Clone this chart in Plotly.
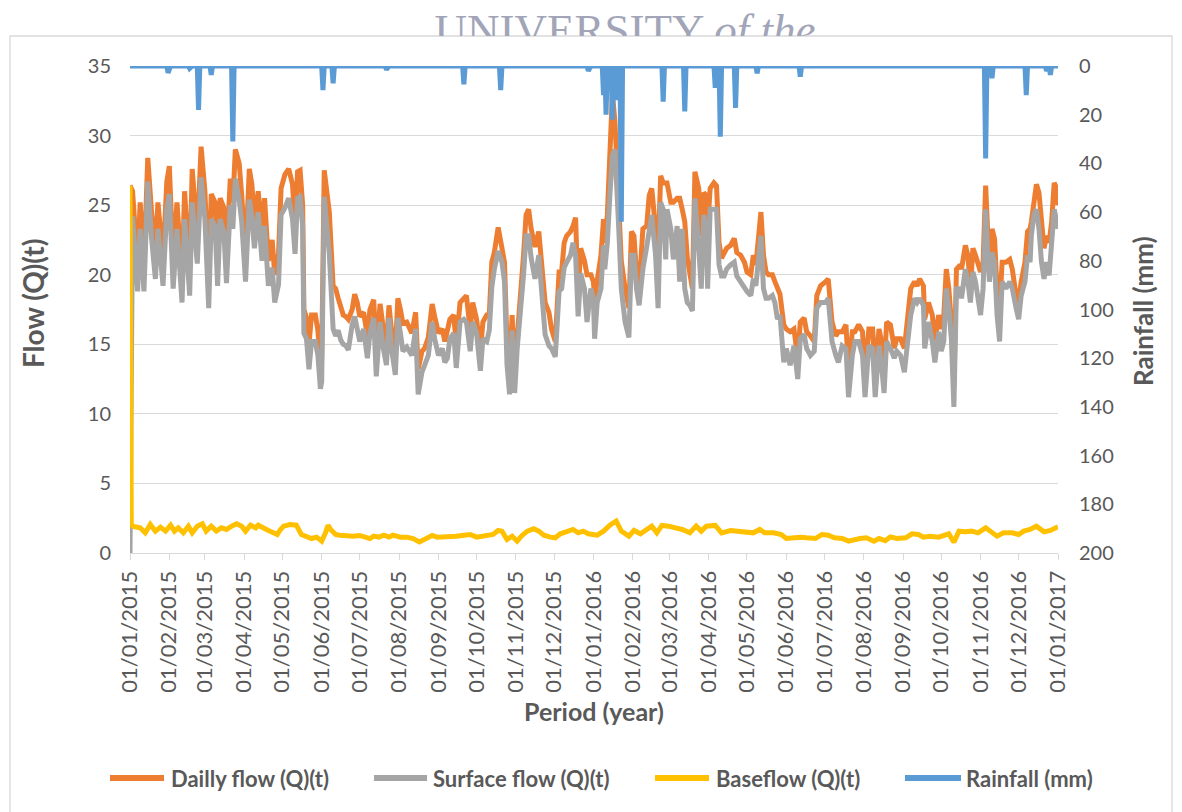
import pandas as pd
import plotly.graph_objects as go

W, H = 1182, 812
OFF = 8  # the page body margin shifts the figure by 8px

# ---------------- data ----------------
# day offsets from 01/01/2015
flow_day = [0, 2, 6, 8, 11, 14, 17, 20, 22, 26, 29, 31, 34, 37, 41, 43, 47, 49, 53, 56,
            59, 62, 64, 67, 69, 71, 74, 76, 79, 81, 83, 86, 88, 91, 94, 96, 98, 101, 104, 106,
            109, 112, 114, 117, 119, 122, 125, 128, 130, 132, 134, 136, 137, 139, 141, 143, 146, 148, 150, 151,
            153, 155, 157, 160, 162, 164, 166, 168, 170, 172, 175, 177, 179, 181, 184, 187, 189, 192, 194, 197,
            199, 202, 204, 206, 209, 211, 213, 215, 218, 222, 225, 227, 230, 232, 235, 238, 240, 243, 246, 248,
            250, 252, 255, 257, 260, 263, 265, 268, 270, 273, 276, 278, 281, 283, 285, 287, 290, 293, 295, 297,
            299, 301, 303, 305, 307, 310, 312, 314, 316, 319, 322, 324, 327, 330, 332, 335, 338, 340, 342, 344,
            347, 349, 351, 353, 355, 358, 360, 363, 365, 366, 368, 371, 373, 374, 376, 378, 380, 382, 383, 385,
            387, 390, 393, 395, 397, 399, 401, 404, 407, 409, 411, 414, 416, 418, 420, 422, 423, 426, 428, 431,
            433, 435, 437, 439, 441, 443, 445, 448, 450, 452, 454, 455, 457, 460, 462, 464, 466, 468, 470, 473,
            476, 478, 481, 484, 486, 489, 491, 493, 497, 499, 501, 503, 506, 508, 510, 512, 515, 517, 520, 523,
            526, 528, 531, 533, 536, 539, 541, 544, 548, 550, 553, 556, 558, 561, 564, 566, 569, 571, 574, 577,
            579, 582, 585, 587, 590, 592, 594, 596, 599, 602, 604, 607, 610, 612, 615, 618, 620, 622, 625, 626,
            629, 632, 634, 637, 639, 641, 643, 645, 647, 649, 651, 654, 655, 658, 660, 662, 664, 666, 668, 670,
            672, 674, 676, 677, 679, 681, 683, 685, 687, 690, 693, 695, 698, 700, 702, 705, 707, 709, 710, 712,
            714, 716, 718, 720, 722, 724, 726, 728, 730, 731]

daily_flow = [26.4, 26.0, 20.7, 25.2, 20.7, 28.4, 24.5, 21.6, 25.2, 21.1, 26.7, 27.8, 20.9, 25.2, 19.8, 26.0, 20.3, 27.6, 22.7, 29.2,
              26.0, 19.4, 25.8, 25.2, 21.0, 25.5, 24.8, 21.2, 26.9, 25.2, 29.0, 28.0, 25.7, 21.3, 27.6, 26.5, 23.8, 26.0, 23.0, 25.5,
              21.0, 22.5, 20.0, 21.5, 26.2, 27.2, 27.6, 26.5, 23.5, 27.4, 27.5, 25.0, 17.5, 16.9, 15.0, 17.1, 17.1, 16.0, 13.5, 14.0,
              27.5, 26.0, 24.5, 19.2, 19.0, 18.3, 17.6, 17.1, 17.0, 16.8, 17.5, 18.6, 18.0, 17.0, 17.3, 15.6, 17.5, 18.2, 14.3, 17.9,
              16.5, 15.0, 17.8, 16.0, 14.5, 18.3, 17.5, 16.5, 16.6, 15.8, 17.3, 13.2, 14.5, 14.7, 15.5, 17.9, 17.0, 15.8, 16.1, 15.2,
              16.0, 16.8, 17.1, 15.0, 18.0, 18.3, 18.5, 16.0, 18.0, 16.8, 14.5, 16.6, 17.1, 17.1, 20.9, 21.6, 23.4, 21.9, 20.9, 15.0,
              13.0, 17.1, 13.0, 15.5, 17.5, 21.4, 24.3, 24.7, 23.3, 22.0, 23.1, 20.9, 18.0, 17.3, 16.1, 15.2, 20.2, 20.2, 22.3, 22.8,
              23.1, 23.5, 24.1, 18.5, 21.9, 21.0, 20.0, 20.0, 19.5, 18.3, 19.5, 21.4, 24.0, 22.3, 24.3, 30.0, 33.0, 31.0, 28.6, 24.7,
              21.0, 19.0, 17.6, 23.1, 22.8, 20.0, 19.0, 23.3, 23.5, 25.7, 26.2, 23.3, 21.4, 27.1, 26.6, 26.6, 26.6, 25.2, 25.2, 25.5,
              25.5, 24.7, 23.8, 21.2, 20.2, 19.0, 27.4, 26.2, 22.8, 25.9, 25.7, 23.3, 26.2, 26.6, 26.4, 22.3, 21.2, 21.6, 21.9, 22.1,
              22.6, 21.6, 21.4, 20.9, 20.2, 20.0, 21.4, 20.7, 24.5, 21.4, 20.2, 20.0, 20.0, 19.5, 19.0, 18.6, 16.4, 16.1, 15.9, 16.1,
              14.0, 16.6, 16.9, 15.9, 15.6, 15.2, 18.5, 19.2, 19.5, 19.7, 16.6, 15.6, 15.9, 15.9, 16.4, 13.0, 15.9, 15.9, 16.4, 15.9,
              12.8, 16.1, 16.1, 12.8, 16.1, 15.2, 13.0, 16.6, 16.4, 14.7, 15.4, 15.4, 14.7, 16.6, 19.0, 19.5, 19.2, 19.7, 19.2, 16.8,
              18.0, 17.1, 15.2, 17.1, 16.1, 17.0, 20.4, 19.0, 16.6, 12.0, 20.4, 20.7, 20.4, 22.1, 21.4, 19.0, 21.9, 21.4, 20.9, 20.2,
              20.9, 26.4, 22.3, 20.2, 23.3, 22.6, 19.0, 17.6, 20.9, 20.9, 21.1, 20.4, 18.5, 18.0, 19.5, 20.9, 23.1, 23.3, 23.8, 25.2,
              26.5, 25.9, 23.3, 21.9, 22.8, 22.3, 23.8, 26.6, 26.2, 25.0]

surface_flow = [0.0, 24.2, 18.8, 23.3, 18.8, 26.7, 22.6, 19.7, 23.3, 19.2, 24.7, 25.8, 19.0, 23.3, 18.0, 24.0, 18.5, 25.2, 20.8, 27.0,
                24.0, 17.6, 24.0, 23.5, 19.2, 24.0, 23.0, 19.4, 25.0, 23.3, 26.9, 25.4, 23.8, 19.5, 25.4, 24.2, 21.9, 24.5, 21.0, 23.5,
                19.2, 20.5, 18.0, 19.3, 24.3, 24.8, 25.5, 24.0, 21.5, 25.5, 25.6, 23.5, 15.8, 15.4, 13.2, 15.2, 15.2, 14.2, 11.8, 12.3,
                25.6, 23.8, 21.5, 16.1, 15.6, 16.0, 15.3, 15.0, 14.9, 14.6, 16.4, 17.0, 16.0, 15.2, 16.1, 14.0, 15.8, 16.9, 12.7, 16.6,
                15.0, 13.5, 16.9, 14.7, 12.8, 16.9, 15.8, 14.5, 14.8, 14.2, 16.1, 11.4, 13.0, 13.5, 14.2, 16.6, 15.4, 14.2, 14.7, 13.7,
                14.0, 15.4, 15.8, 13.3, 16.6, 16.8, 16.6, 14.5, 16.6, 15.8, 13.1, 15.4, 15.2, 16.0, 19.1, 20.4, 21.7, 20.9, 19.5, 13.5,
                11.4, 16.0, 11.5, 14.7, 16.6, 20.0, 22.8, 22.8, 21.2, 19.7, 21.4, 19.0, 15.7, 14.9, 14.7, 14.1, 18.8, 19.0, 20.5, 20.9,
                21.4, 22.3, 21.4, 17.0, 20.1, 19.0, 16.6, 19.0, 18.3, 15.4, 18.0, 19.0, 22.1, 20.4, 22.3, 25.7, 28.6, 29.0, 26.2, 23.3,
                19.0, 16.6, 15.5, 21.4, 21.4, 19.0, 17.8, 20.4, 22.0, 23.1, 24.3, 21.4, 17.6, 25.2, 24.7, 21.1, 24.7, 23.3, 21.1, 23.5,
                19.5, 23.3, 19.0, 18.0, 17.8, 17.4, 25.5, 21.9, 19.0, 24.3, 23.3, 19.0, 24.7, 24.7, 24.7, 20.7, 19.9, 19.9, 20.4, 20.7,
                20.9, 19.9, 19.5, 19.0, 18.8, 18.5, 19.7, 19.2, 22.8, 19.0, 18.3, 18.3, 18.5, 18.0, 16.8, 17.1, 13.7, 14.7, 13.5, 14.9,
                12.5, 15.4, 15.7, 14.7, 14.2, 14.5, 17.6, 18.0, 18.0, 18.3, 15.2, 14.2, 13.7, 14.9, 14.7, 11.2, 14.2, 15.2, 15.2, 14.2,
                11.2, 14.9, 14.7, 11.2, 14.9, 13.5, 11.5, 15.2, 14.7, 14.0, 14.5, 14.2, 13.0, 14.7, 17.1, 18.3, 18.0, 18.3, 17.8, 14.7,
                16.6, 15.2, 13.7, 15.9, 14.5, 15.2, 19.0, 17.6, 15.4, 10.5, 19.0, 19.0, 18.3, 20.4, 19.5, 18.0, 20.2, 19.5, 18.5, 17.1,
                19.0, 24.7, 20.9, 19.5, 21.6, 20.9, 17.1, 15.2, 19.5, 19.0, 19.5, 19.0, 17.6, 16.8, 18.5, 19.5, 21.4, 20.9, 22.8, 24.3,
                24.7, 23.3, 20.9, 19.7, 20.9, 19.95, 22.3, 24.7, 23.8, 23.3]

base_day = [0, 1, 3, 8, 12, 16, 20, 24, 28, 32, 35, 38, 42, 46, 49, 53, 57, 60, 64, 68,
            72, 76, 80, 84, 88, 91, 95, 99, 101, 105, 109, 113, 116, 118, 121, 126, 131, 135, 139, 143,
            147, 151, 154, 156, 158, 162, 165, 171, 176, 181, 186, 189, 192, 196, 200, 204, 207, 213, 218, 223,
            228, 232, 238, 242, 247, 252, 257, 263, 268, 273, 277, 281, 286, 290, 293, 297, 301, 305, 309, 313,
            318, 322, 326, 331, 335, 339, 344, 349, 353, 357, 361, 365, 368, 373, 378, 383, 387, 393, 397, 402,
            407, 411, 415, 419, 424, 429, 435, 441, 446, 450, 454, 461, 466, 473, 479, 486, 491, 496, 500, 507,
            513, 517, 523, 528, 533, 540, 545, 550, 555, 561, 566, 570, 575, 580, 586, 590, 595, 599, 604, 611,
            616, 621, 625, 630, 637, 645, 649, 653, 658, 663, 668, 674, 677, 683, 688, 695, 700, 704, 709, 714,
            720, 725, 731]

baseflow = [26.4, 2.0, 1.9, 1.81, 1.45, 2.05, 1.57, 1.86, 1.57, 2.0, 1.57, 1.81, 1.45, 1.93, 1.45, 1.93, 2.1, 1.57, 1.93, 1.57,
            1.81, 1.69, 1.93, 2.1, 1.93, 1.57, 2.0, 1.81, 2.0, 1.76, 1.62, 1.45, 1.33, 1.62, 1.93, 2.05, 2.0, 1.33, 1.14, 1.04,
            1.14, 0.85, 1.45, 2.0, 1.69, 1.33, 1.28, 1.21, 1.21, 1.26, 1.14, 1.04, 1.21, 1.14, 1.28, 1.14, 1.28, 1.14, 1.14, 1.04,
            0.8, 0.97, 1.26, 1.14, 1.14, 1.21, 1.21, 1.28, 1.33, 1.14, 1.21, 1.26, 1.33, 1.62, 1.57, 0.97, 1.21, 0.85, 1.28, 1.57,
            1.74, 1.57, 1.28, 1.14, 1.09, 1.38, 1.57, 1.69, 1.45, 1.57, 1.38, 1.28, 1.28, 1.57, 2.0, 2.29, 1.57, 1.21, 1.62, 1.38,
            1.69, 1.93, 1.45, 1.98, 1.93, 1.81, 1.69, 1.45, 1.93, 1.57, 1.93, 1.98, 1.45, 1.62, 1.57, 1.52, 1.45, 1.69, 1.45, 1.45,
            1.33, 1.04, 1.09, 1.14, 1.09, 1.04, 1.33, 1.28, 1.09, 1.04, 0.85, 0.97, 1.04, 1.09, 0.85, 1.04, 0.89, 1.16, 1.04, 1.09,
            1.38, 1.33, 1.14, 1.21, 1.14, 1.38, 0.77, 1.57, 1.52, 1.57, 1.45, 1.81, 1.62, 1.21, 1.45, 1.45, 1.33, 1.57, 1.69, 1.93,
            1.52, 1.62, 1.88]

rain_day = [30, 47, 54, 64, 81, 152, 160, 202, 263, 292, 361, 373, 375, 380, 383, 387,
            420, 437, 461, 465, 477, 494, 528, 674, 679, 706, 722, 725]
rain_mm = [2.8, 1.0, 18.0, 3.7, 31.0, 9.9, 7.1, 1.5, 7.5, 9.9, 2.0, 12.0, 20.0, 22.0, 14.0, 64.0,
           14.6, 18.7, 9.0, 29.0, 17.2, 3.0, 4.4, 38.0, 5.0, 12.0, 2.0, 3.7]

month_ticks = pd.date_range("2015-01-01", "2017-01-01", freq="MS")
month_labels = [d.strftime("%d/%m/%Y") for d in month_ticks]

flow_left_ticks = [0, 5, 10, 15, 20, 25, 30, 35]
rain_right_ticks = [0, 20, 40, 60, 80, 100, 120, 140, 160, 180, 200]

series_names = ["Dailly flow (Q)(t)", "Surface flow (Q)(t)", "Baseflow (Q)(t)", "Rainfall (mm)"]

# ---------------- build ----------------
start = pd.Timestamp("2015-01-01")
flow_dates = [start + pd.Timedelta(days=d) for d in flow_day]
base_dates = [start + pd.Timedelta(days=d) for d in base_day]
rain_dates = pd.date_range("2015-01-01", "2017-01-01", freq="D")
rain_series = [0.0] * len(rain_dates)
for d, v in zip(rain_day, rain_mm):
    rain_series[d] = v


def px(sx):
    return (sx - OFF) / W


def py(sy):
    return 1 - (sy - OFF) / H


C_ORANGE = "#ED7D31"
C_GRAY = "#A5A5A5"
C_YELLOW = "#FFC000"
C_BLUE = "#5B9BD5"
colors = [C_ORANGE, C_GRAY, C_YELLOW, C_BLUE]
TXT = "#595959"
GRID = "#D9D9D9"
FONT = "Lato"
LW = 5

fig = go.Figure()
fig.add_trace(go.Scatter(x=flow_dates, y=daily_flow, mode="lines", name=series_names[0],
                         line=dict(color=C_ORANGE, width=LW)))
fig.add_trace(go.Scatter(x=flow_dates, y=surface_flow, mode="lines", name=series_names[1],
                         line=dict(color=C_GRAY, width=LW)))
fig.add_trace(go.Scatter(x=base_dates, y=baseflow, mode="lines", name=series_names[2],
                         line=dict(color=C_YELLOW, width=LW)))
fig.add_trace(go.Scatter(x=rain_dates, y=rain_series, mode="lines", name=series_names[3],
                         line=dict(color=C_BLUE, width=LW), yaxis="y2"))

# watermark, clipped by the top of the chart frame
fig.add_trace(go.Scatter(x=[(625 - OFF) / W], y=[0.08], mode="text", text=["UNIVERSITY <i>of the</i>"],
                         textfont=dict(family="Liberation Serif", size=45, color="#A2A5B7"),
                         xaxis="x3", yaxis="y3", showlegend=False, hoverinfo="skip",
                         cliponaxis=True))

tickfont_y = dict(family=FONT, size=20, color=TXT)
tickfont_x = dict(family=FONT, size=22, color=TXT)

fig.update_layout(
    width=W, height=H, autosize=False,
    margin=dict(l=0, r=0, t=0, b=0, autoexpand=False),
    paper_bgcolor="white", plot_bgcolor="white",
    showlegend=False,
    xaxis=dict(domain=[px(130), px(1058)], type="date", range=[start, pd.Timestamp("2017-01-01")],
               tickmode="array", tickvals=month_ticks, ticktext=month_labels, tickangle=-90,
               ticks="outside", ticklen=6, tickcolor=GRID, showline=True, linecolor=GRID, linewidth=1,
               showgrid=False, zeroline=False, tickfont=tickfont_x, ticklabelstandoff=2, anchor="y"),
    yaxis=dict(domain=[py(553), py(66)], range=[0, 35], tickmode="array", tickvals=flow_left_ticks,
               showgrid=True, gridcolor=GRID, gridwidth=1, zeroline=False, showline=False,
               tickfont=tickfont_y, ticklabelstandoff=18, anchor="x"),
    yaxis2=dict(overlaying="y", side="right", range=[200, 0], tickmode="array", tickvals=rain_right_ticks,
                showgrid=False, zeroline=False, showline=False, tickfont=tickfont_y,
                ticklabelstandoff=20, anchor="x"),
    xaxis3=dict(domain=[0, 1], range=[0, 1], visible=False, anchor="y3", fixedrange=True),
    yaxis3=dict(domain=[py(36), 1], range=[0, 1], visible=False, anchor="x3", fixedrange=True),
)

# chart frame
fig.add_shape(type="rect", xref="paper", yref="paper", x0=px(10), x1=px(1172), y0=-0.05, y1=py(36),
              line=dict(color=GRID, width=1.3), fillcolor="rgba(0,0,0,0)", layer="below")

# legend (drawn by hand to match the long line samples)
leg_line_x = [(110, 164), (374, 427), (655, 709), (905, 961)]
leg_text_x = [169, 431, 714, 964]
leg_y = 778
for (a, b), tx, name, col in zip(leg_line_x, leg_text_x, series_names, colors):
    fig.add_shape(type="line", xref="paper", yref="paper", x0=px(a), x1=px(b), y0=py(leg_y), y1=py(leg_y),
                  line=dict(color=col, width=6))
    fig.add_annotation(text=name, x=px(tx), y=py(leg_y), xref="paper", yref="paper", showarrow=False,
                       xanchor="left", yanchor="middle",
                       font=dict(family=FONT, size=22, color=TXT, weight="bold"))

ann_font = dict(family=FONT, size=26, color=TXT, weight="bold")
fig.add_annotation(text="Flow (Q)(t)", x=px(33), y=py(304), xref="paper", yref="paper",
                   textangle=-90, showarrow=False, font=dict(ann_font, size=28), xanchor="center", yanchor="middle")
fig.add_annotation(text="Rainfall (mm)", x=px(1143), y=py(311), xref="paper", yref="paper",
                   textangle=-90, showarrow=False, font=ann_font, xanchor="center", yanchor="middle")
fig.add_annotation(text="Period (year)", x=px(594), y=py(711), xref="paper", yref="paper",
                   showarrow=False, font=dict(ann_font, size=25), xanchor="center", yanchor="middle")

fig.write_html("out.html")
